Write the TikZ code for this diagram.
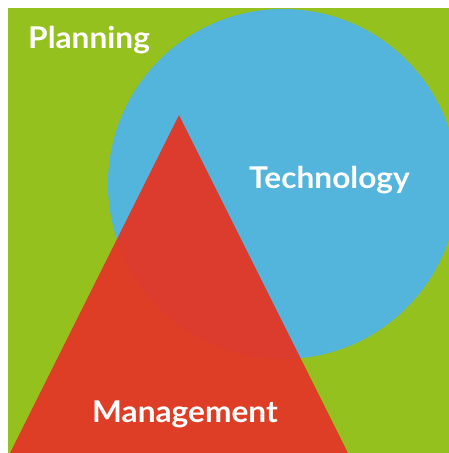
\documentclass[tikz,border=0pt]{standalone}
\usepackage{fontspec}
\setmainfont{Lato}
\definecolor{pgreen}{HTML}{95C11F}
\definecolor{tblue}{HTML}{53B4DC}
\definecolor{mred}{HTML}{E13827}
\begin{document}
\begin{tikzpicture}[x=1pt,y=-1pt,
  lbl/.style={text=white,font=\fontsize{30}{30}\selectfont\bfseries,inner sep=0pt,anchor=base west,xscale=1.055}]
\useasboundingbox (0,0) rectangle (449,453);
\fill[white] (0,0) rectangle (449,453);
\begin{scope}
\clip (8,8) rectangle (449,453);
\fill[pgreen] (8,8) rectangle (449,453);
\fill[tblue] (283,184) circle[radius=175];
\fill[mred,fill opacity=0.96] (179,115) -- (348,453) -- (10,453) -- cycle;
\end{scope}
\node[lbl] (plan) at (28,48) {Planning};
\node[lbl] (tech) at (249,188) {Technology};
\node[lbl] (mgmt) at (92,422) {Management};
\end{tikzpicture}
\end{document}
